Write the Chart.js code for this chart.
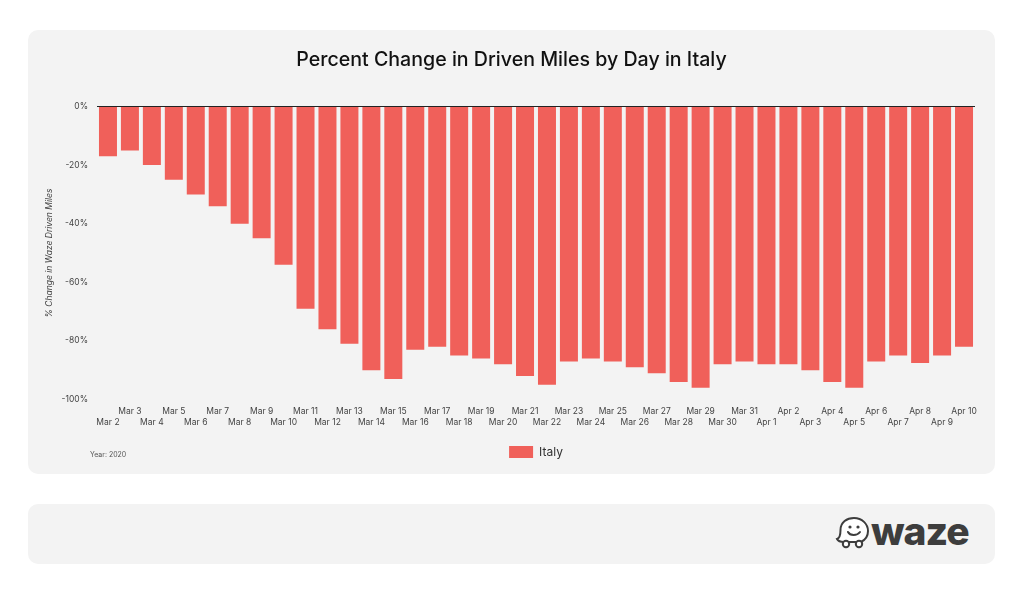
<!DOCTYPE html>
<html>
<head>
<meta charset="utf-8">
<title>Percent Change in Driven Miles by Day in Italy</title>
<script src="https://cdn.jsdelivr.net/npm/chart.js@4"></script>
<style>
    html, body { margin: 0; padding: 0; background: #fff; }
    body { width: 1024px; height: 596px; position: relative; overflow: hidden; font-family: Inter, Roboto, sans-serif; }
    .panel { position: absolute; left: 28px; width: 967px; background: #f3f3f3; border-radius: 10px; }
    #chart-panel { top: 30px; height: 444px; }
    #logo-panel { top: 504px; height: 60px; }
    #chart-panel canvas { position: absolute; left: 0; top: 0; }
    #year-note { position: absolute; left: 62px; top: 420px; font-size: 7px; line-height: 10px; color: #555; }
    #waze-icon { position: absolute; left: 807px; top: 12px; }
    #waze-word { position: absolute; left: 843px; top: 4px; font-size: 39px; line-height: 46px; font-weight: 800; letter-spacing: -1px; color: #3d3d3d; }
</style>
</head>
<body>
<div class="panel" id="chart-panel">
    <canvas id="miles-chart" width="967" height="444"></canvas>
    <div id="year-note">Year: 2020</div>
</div>
<div class="panel" id="logo-panel">
    <svg id="waze-icon" width="36" height="34" viewBox="0 0 36 34">
        <path d="M2 23 C5 22 5.500 18 5.500 14 C5.500 6 12 2 19 2 C27 2 33 8 33 15 C33 20 30 24 26 26 L9 26 C6 26 3 25 2 23 Z" fill="#fff" stroke="#3d3d3d" stroke-width="2"/>
        <circle cx="15" cy="11" r="1.6" fill="#3d3d3d"/>
        <circle cx="23" cy="11" r="1.6" fill="#3d3d3d"/>
        <path d="M13 16 C15 20 22 20 25 16" fill="none" stroke="#3d3d3d" stroke-width="2" stroke-linecap="round"/>
        <circle cx="11" cy="28" r="3.200" fill="#fff" stroke="#3d3d3d" stroke-width="2"/>
        <circle cx="24" cy="28" r="3.200" fill="#fff" stroke="#3d3d3d" stroke-width="2"/>
    </svg>
    <div id="waze-word">waze</div>
</div>
<script>
// Values
const days = ['Mar 2', 'Mar 3', 'Mar 4', 'Mar 5', 'Mar 6', 'Mar 7', 'Mar 8', 'Mar 9', 'Mar 10', 'Mar 11',
    'Mar 12', 'Mar 13', 'Mar 14', 'Mar 15', 'Mar 16', 'Mar 17', 'Mar 18', 'Mar 19', 'Mar 20', 'Mar 21',
    'Mar 22', 'Mar 23', 'Mar 24', 'Mar 25', 'Mar 26', 'Mar 27', 'Mar 28', 'Mar 29', 'Mar 30', 'Mar 31',
    'Apr 1', 'Apr 2', 'Apr 3', 'Apr 4', 'Apr 5', 'Apr 6', 'Apr 7', 'Apr 8', 'Apr 9', 'Apr 10'];
const italy = [-17, -15, -20, -25, -30, -34, -40, -45, -54, -69,
    -76, -81, -90, -93, -83, -82, -85, -86, -88, -92,
    -95, -87, -86, -87, -89, -91, -94, -96, -88, -87,
    -88, -88, -90, -94, -96, -87, -85, -87.5, -85, -82];

document.addEventListener('DOMContentLoaded', function() {
    const ctx = document.getElementById('miles-chart');

    new Chart(ctx, {
        type: 'bar',
        data: {
            labels: days,
            datasets: [{
                label: 'Italy',
                data: italy,
                backgroundColor: '#f0605a',
                borderWidth: 0,
                barPercentage: 0.82,
                categoryPercentage: 1
            }]
        },
        options: {
            responsive: false,
            animation: false,
            layout: {
                padding: { left: 20, right: 20, top: 0, bottom: 6 }
            },
            plugins: {
                tooltip: { enabled: false },
                title: {
                    display: true,
                    text: 'Percent Change in Driven Miles by Day in Italy',
                    color: '#111',
                    font: { family: 'Inter', size: 19.6, weight: '500' },
                    padding: { top: 18, bottom: 35 }
                },
                legend: {
                    position: 'bottom',
                    fullSize: false,
                    labels: {
                        boxWidth: 24,
                        boxHeight: 12,
                        padding: 10,
                        color: '#333',
                        font: { family: 'Inter', size: 12 }
                    }
                }
            },
            scales: {
                x: {
                    border: { display: false },
                    grid: { display: false },
                    ticks: {
                        autoSkip: false,
                        maxRotation: 0,
                        minRotation: 0,
                        padding: -2,
                        color: '#444',
                        font: { family: 'Inter', size: 8.5, lineHeight: 1.3 },
                        // Labels take turns on two rows
                        callback: function(value, index) {
                            return index % 2 === 0 ? ['', days[index]] : [days[index], ''];
                        }
                    },
                    afterFit: function(scale) {
                        scale.height = 36.5;
                    }
                },
                y: {
                    min: -100,
                    max: 0,
                    border: { display: false },
                    grid: {
                        drawTicks: false,
                        color: function(c) {
                            return c.tick.value === 0 ? '#222' : 'transparent';
                        }
                    },
                    ticks: {
                        stepSize: 20,
                        padding: 9,
                        color: '#444',
                        font: { family: 'Inter', size: 8.5 },
                        callback: function(value) {
                            return value + '%';
                        }
                    },
                    title: {
                        display: true,
                        text: '% Change in Waze Driven Miles',
                        color: '#444',
                        font: { family: 'Inter', size: 8.5, style: 'italic' },
                        padding: { top: -4, bottom: 0 }
                    },
                    afterFit: function(scale) {
                        scale.width = 49;
                    }
                }
            }
        }
    });
});
</script>
</body>
</html>
